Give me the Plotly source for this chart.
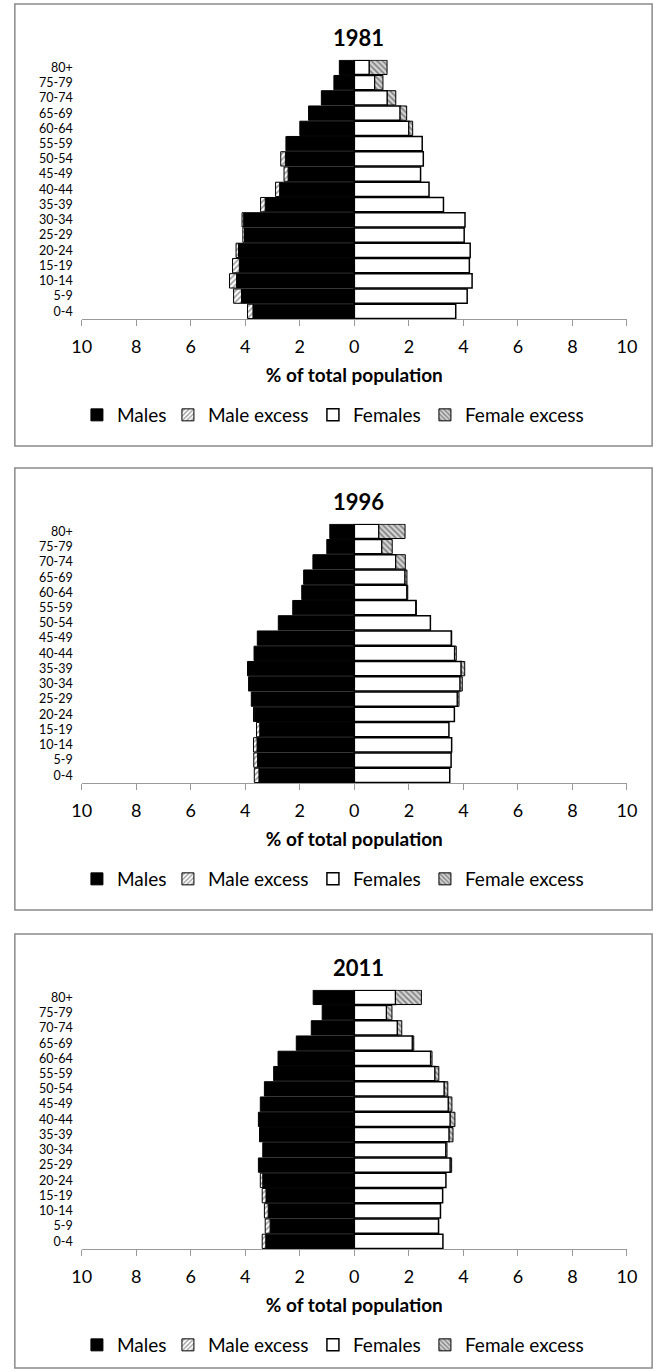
import plotly.graph_objects as go

# Age groups, bottom (youngest) to top (oldest)
age_groups = ["0-4", "5-9", "10-14", "15-19", "20-24", "25-29", "30-34", "35-39",
              "40-44", "45-49", "50-54", "55-59", "60-64", "65-69", "70-74", "75-79", "80+"]

census_years = ["1981", "1996", "2011"]

# Share of total population (%) by sex and age group
males_1981 = [3.92, 4.43, 4.58, 4.47, 4.34, 4.09, 4.12, 3.44, 2.89, 2.58, 2.70, 2.51,
              2.00, 1.68, 1.21, 0.75, 0.55]
females_1981 = [3.72, 4.14, 4.32, 4.22, 4.25, 4.03, 4.06, 3.27, 2.74, 2.43, 2.53, 2.49,
                2.14, 1.92, 1.52, 1.05, 1.20]

males_1996 = [3.67, 3.69, 3.70, 3.59, 3.70, 3.78, 3.88, 3.92, 3.68, 3.56, 2.79, 2.26,
              1.93, 1.86, 1.52, 1.01, 0.90]
females_1996 = [3.50, 3.55, 3.57, 3.47, 3.67, 3.84, 3.96, 4.05, 3.74, 3.57, 2.79, 2.27,
                1.96, 1.93, 1.87, 1.39, 1.86]

males_2011 = [3.38, 3.27, 3.30, 3.38, 3.45, 3.52, 3.36, 3.48, 3.52, 3.45, 3.30, 2.96,
              2.80, 2.13, 1.58, 1.18, 1.51]
females_2011 = [3.25, 3.09, 3.16, 3.24, 3.36, 3.57, 3.40, 3.62, 3.69, 3.58, 3.43, 3.10,
                2.85, 2.18, 1.74, 1.38, 2.46]

x_tick_values = [-10, -8, -6, -4, -2, 0, 2, 4, 6, 8, 10]
x_tick_labels = ["10", "8", "6", "4", "2", "0", "2", "4", "6", "8", "10"]

series = [(males_1981, females_1981), (males_1996, females_1996), (males_2011, females_2011)]

W, H = 666, 1371
FONT = "Lato, Carlito, Calibri, sans-serif"


def py(pixel_y):
    """Convert a pixel row (from the top) to paper coordinates."""
    return 1 - pixel_y / H


# Vertical layout of each panel (pixel rows)
panel_offsets = [0, 464, 930]
panel_bottoms = [446, 910, 1368]

# Legend entry widths so the four keys are spread evenly across the panel
legend_widths = {"Males": 46, "Male excess": 100, "Females": 67, "Female excess": 0}

fig = go.Figure()
layout_extra = {}
shapes = []
annotations = []

for i, (year, (males, females)) in enumerate(zip(census_years, series)):
    n = i + 1
    xa = "x" if n == 1 else f"x{n}"
    ya = "y" if n == 1 else f"y{n}"
    leg = "legend" if n == 1 else f"legend{n}"
    off = panel_offsets[i]

    common = [min(m, f) for m, f in zip(males, females)]
    male_excess = [-(m - f) if m > f else None for m, f in zip(males, females)]
    female_excess = [(f - m) if f > m else None for m, f in zip(males, females)]

    fig.add_trace(go.Bar(
        name="Males", y=age_groups, x=[-c for c in common], orientation="h",
        marker=dict(color="black", line=dict(color="black", width=1)),
        legendwidth=legend_widths["Males"],
        xaxis=xa, yaxis=ya, legend=leg))
    fig.add_trace(go.Bar(
        name="Male excess", y=age_groups, x=male_excess, orientation="h",
        marker=dict(color="white", line=dict(color="black", width=1),
                    pattern=dict(shape="/", fgcolor="#333", bgcolor="white",
                                 size=4, solidity=0.4)),
        legendwidth=legend_widths["Male excess"],
        xaxis=xa, yaxis=ya, legend=leg))
    fig.add_trace(go.Bar(
        name="Females", y=age_groups, x=common, orientation="h",
        marker=dict(color="white", line=dict(color="black", width=1.5)),
        legendwidth=legend_widths["Females"],
        xaxis=xa, yaxis=ya, legend=leg))
    fig.add_trace(go.Bar(
        name="Female excess", y=age_groups, x=female_excess, orientation="h",
        marker=dict(color="#d4d4d4", line=dict(color="black", width=1),
                    pattern=dict(shape="\\", fgcolor="#2a2a2a", bgcolor="#d4d4d4",
                                 size=4, solidity=0.4)),
        xaxis=xa, yaxis=ya, legend=leg))

    axis_y = 319 + off
    plot_top = axis_y - 17 * 15.25

    layout_extra[f"xaxis{'' if n == 1 else n}"] = dict(
        domain=[74 / W, 636 / W], anchor=ya, range=[-10, 10],
        tickvals=x_tick_values, ticktext=x_tick_labels,
        showline=True, linecolor="#9a9a9a", linewidth=1.2,
        ticks="outside", ticklen=6, tickcolor="#9a9a9a", tickwidth=1.2,
        showgrid=False, zeroline=False, fixedrange=True,
        tickfont=dict(family=FONT, size=18, color="black"),
        ticklabelstandoff=5,
        title=dict(text="<b>% of total population</b>",
                   font=dict(family=FONT, size=19, color="black"), standoff=12))
    layout_extra[f"yaxis{'' if n == 1 else n}"] = dict(
        domain=[py(axis_y), py(plot_top)], anchor=xa, type="category",
        categoryorder="array", categoryarray=age_groups, range=[-0.5, 16.5],
        tickmode="array", tickvals=age_groups, ticktext=age_groups,
        showline=False, ticks="", showgrid=False, zeroline=False, fixedrange=True,
        tickfont=dict(family=FONT, size=12.5, color="black"), ticklabelstandoff=8)
    layout_extra[leg] = dict(
        orientation="h", x=69 / W, xanchor="left", y=py(415 + off), yanchor="middle",
        font=dict(family=FONT, size=19, color="black"), bgcolor="rgba(0,0,0,0)",
        traceorder="normal", itemclick=False, itemdoubleclick=False)

    annotations.append(dict(
        text=f"<b>{year}</b>", x=359 / W, y=py(37 + off), xref="paper", yref="paper",
        showarrow=False, font=dict(family=FONT, size=22, color="black"),
        xanchor="center", yanchor="middle"))

    shapes.append(dict(
        type="rect", xref="paper", yref="paper",
        x0=5 / W, x1=662 / W, y0=py(panel_bottoms[i]), y1=py(4 + off),
        line=dict(color="#8a8a8a", width=1.5), fillcolor="rgba(0,0,0,0)"))

fig.update_layout(
    width=W, height=H, autosize=False,
    margin=dict(l=0, r=0, t=0, b=0),
    paper_bgcolor="white", plot_bgcolor="white",
    barmode="relative", bargap=0.06,
    shapes=shapes, annotations=annotations,
    font=dict(family=FONT, color="black"),
    **layout_extra)

fig.write_html("out.html")
